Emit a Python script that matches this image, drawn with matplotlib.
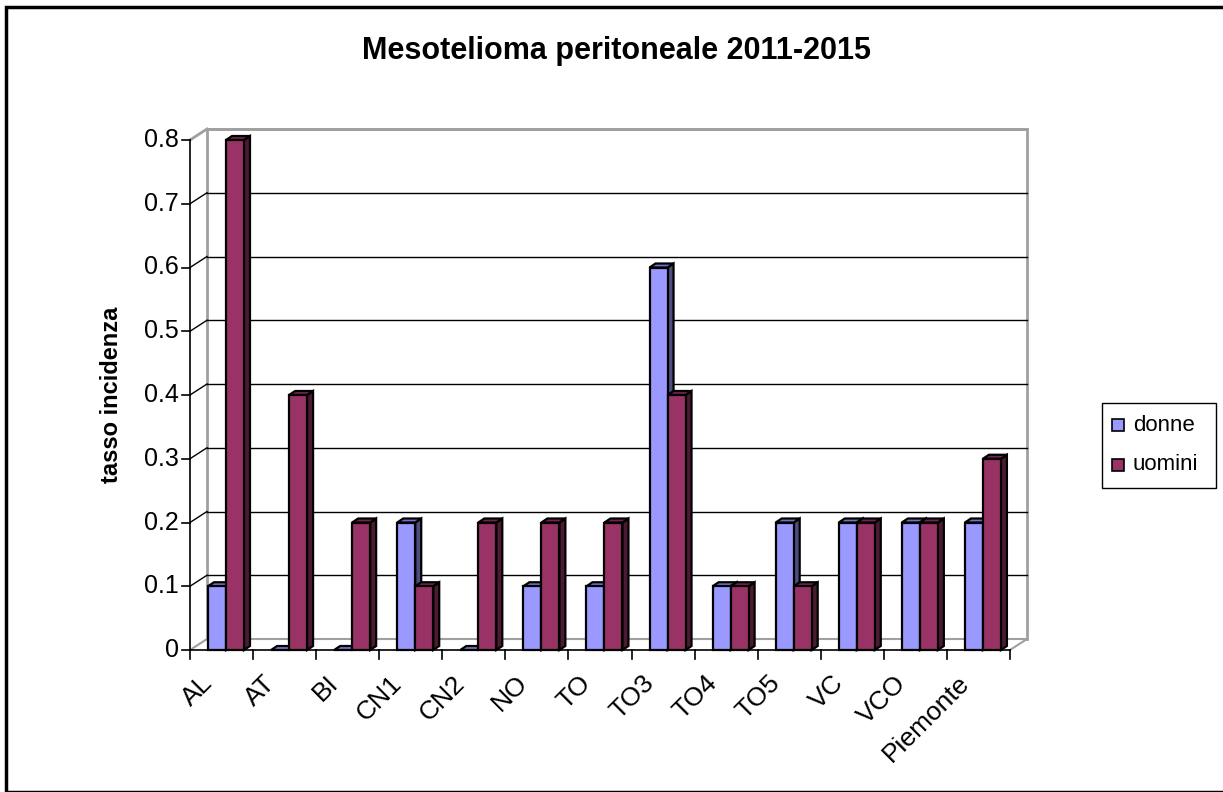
import numpy as np
import matplotlib.pyplot as plt
from matplotlib.patches import Polygon, Rectangle

categorie = ['AL', 'AT', 'BI', 'CN1', 'CN2', 'NO', 'TO', 'TO3', 'TO4', 'TO5', 'VC', 'VCO', 'Piemonte']
donne = [0.1, 0.0, 0.0, 0.2, 0.0, 0.1, 0.1, 0.6, 0.1, 0.2, 0.2, 0.2, 0.2]
uomini = [0.8, 0.4, 0.2, 0.1, 0.2, 0.2, 0.2, 0.4, 0.1, 0.1, 0.2, 0.2, 0.3]
yticks = [0, 0.1, 0.2, 0.3, 0.4, 0.5, 0.6, 0.7, 0.8]

plt.rcParams['font.family'] = ['Liberation Sans', 'DejaVu Sans']

W, H = 1223, 792
fig = plt.figure(figsize=(W / 100, H / 100), dpi=100)

# outer frame
fig.add_artist(Rectangle((6 / W, 0), 1.2, 1 - 7 / H, transform=fig.transFigure,
                         fill=False, ec='black', lw=2.5))

x0, x1 = 190, 1010
y0, y1 = 650, 140
n = len(categorie)
ax = fig.add_axes([x0 / W, 1 - y0 / H, (x1 - x0) / W, (y0 - y1) / H])
ax.set_xlim(0, n)
ax.set_ylim(0, 0.8)
ax.axis('off')

# depth of the chart walls (data units)
px_x = n / (x1 - x0)
px_y = 0.8 / (y0 - y1)
wdx, wdy = 17 * px_x, 11 * px_y
grey = '#a0a0a0'

# back wall and floor
ax.plot([wdx, wdx, n + wdx, n + wdx], [wdy, 0.8 + wdy, 0.8 + wdy, wdy],
        color=grey, lw=2, clip_on=False, zorder=1)
ax.plot([0, wdx, n + wdx, n], [0, wdy, wdy, 0], color=grey, lw=1.5, clip_on=False, zorder=1)
for v in yticks[1:]:
    last = v == yticks[-1]
    ax.plot([wdx, n + wdx], [v + wdy, v + wdy], color=grey if last else 'black',
            lw=2 if last else 1, clip_on=False, zorder=1)
    ax.plot([0, wdx], [v, v + wdy], color=grey if last else 'black',
            lw=2 if last else 1, clip_on=False, zorder=1)

# front axes
ax.plot([0, 0], [0, 0.8], color='black', lw=1.2, clip_on=False, zorder=2)
ax.plot([0, n], [0, 0], color='black', lw=1.2, clip_on=False, zorder=2)
for v in yticks:
    ax.plot([-8 * px_x, 0], [v, v], color='black', lw=1.2, clip_on=False)
    ax.text(-11 * px_x, v, f'{v:g}', ha='right', va='center', fontsize=18)
for i in range(n + 1):
    ax.plot([i, i], [0, -9 * px_y], color='black', lw=1.2, clip_on=False)
for i, c in enumerate(categorie):
    ax.text(i + 0.16, -21 * px_y, c, rotation=45, ha='right', va='top',
            rotation_mode='anchor', fontsize=19)

# 3d-ish bars
bw = 18 * px_x
bdx, bdy = 6 * px_x, 4 * px_y


def bar3d(x, h, front, top, side):
    kw = dict(ec='black', lw=1.6, joinstyle='miter', clip_on=False, zorder=5)
    ax.add_patch(Polygon([(x + bw, 0), (x + bw + bdx, bdy), (x + bw + bdx, h + bdy), (x + bw, h)],
                         fc=side, **kw))
    ax.add_patch(Polygon([(x, h), (x + bdx, h + bdy), (x + bw + bdx, h + bdy), (x + bw, h)],
                         fc=top, **kw))
    if h > 0:
        ax.add_patch(Polygon([(x, 0), (x, h), (x + bw, h), (x + bw, 0)], fc=front, **kw))


for i in range(n):
    xs = i + 18 * px_x
    bar3d(xs, donne[i], '#9999ff', '#7373bf', '#4d4d80')
    bar3d(xs + bw, uomini[i], '#993366', '#73264d', '#4d1a33')

fig.text(616 / W, 1 - 51 / H, 'Mesotelioma peritoneale 2011-2015', ha='center', va='center',
         fontsize=22, fontweight='bold')
fig.text(112 / W, 1 - 395 / H, 'tasso incidenza', rotation=90, ha='center', va='center',
         fontsize=17, fontweight='bold')

# legend
lx, ly, lw_, lh = 1102, 403, 114, 85
fig.add_artist(Rectangle((lx / W, 1 - (ly + lh) / H), lw_ / W, lh / H, transform=fig.transFigure,
                         fill=False, ec='black', lw=1))
for k, (lab, col) in enumerate([('donne', '#9999ff'), ('uomini', '#993366')]):
    cy = 425 + k * 40
    fig.add_artist(Rectangle((1112 / W, 1 - (cy + 6) / H), 12 / W, 12 / H,
                             transform=fig.transFigure, fc=col, ec='black', lw=1.2))
    fig.text(1133 / W, 1 - cy / H, lab, ha='left', va='center', fontsize=16)

fig.savefig('out.png', dpi=100)
